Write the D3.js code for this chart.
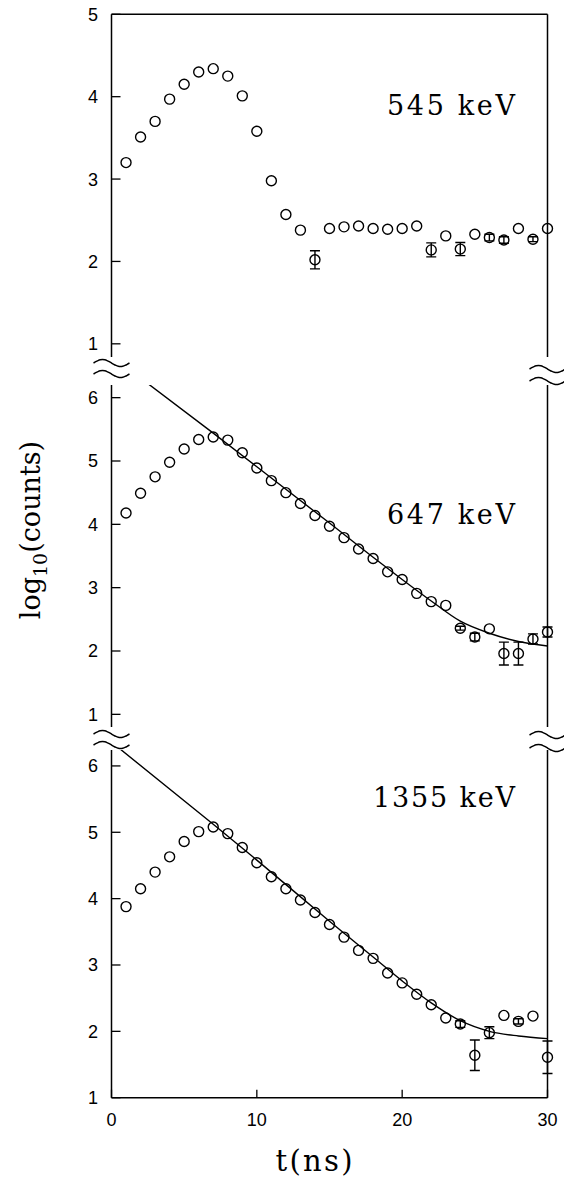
<!DOCTYPE html>
<html>
<head>
<meta charset="utf-8">
<script src="https://cdn.jsdelivr.net/npm/d3@7"></script>
<style>
    body{margin:0;background:#fff;}
    .tick-label{font-family:'Liberation Sans',Arial,sans-serif;font-size:18px;fill:#000;}
    .serif{font-family:'DejaVu Serif','Liberation Serif',serif;fill:#000;}
</style>
</head>
<body>
<div class="canvas"></div>
<script>
/* decay curves of three gamma lines, log10(counts) vs time */

var times = [1,2,3,4,5,6,7,8,9,10,11,12,13,14,15,16,17,18,19,20,21,22,23,24,25,26,27,28,29,30];

var counts545 = [3.20,3.51,3.70,3.97,4.15,4.30,4.34,4.25,4.01,3.58,2.98,2.57,2.38,2.02,2.40,
                 2.42,2.43,2.40,2.39,2.40,2.43,2.14,2.31,2.15,2.33,2.29,2.26,2.40,2.27,2.40];
var err545 = [0,0,0,0,0,0,0,0,0,0,0,0,0,0.11,0,
              0,0,0,0,0,0,0.085,0,0.08,0,0.04,0.04,0,0.03,0];

var counts647 = [4.18,4.49,4.75,4.98,5.19,5.34,5.38,5.33,5.13,4.89,4.69,4.50,4.33,4.14,3.97,
                 3.79,3.61,3.46,3.25,3.13,2.91,2.78,2.72,2.36,2.22,2.35,1.96,1.96,2.19,2.30];
var err647 = [0,0,0,0,0,0,0,0,0,0,0,0,0,0,0,
              0,0,0,0,0,0,0,0,0.03,0.06,0,0.18,0.18,0.08,0.08];

var counts1355 = [3.88,4.15,4.40,4.63,4.86,5.01,5.08,4.98,4.77,4.54,4.33,4.15,3.98,3.79,3.61,
                  3.42,3.22,3.10,2.88,2.73,2.56,2.40,2.20,2.11,1.64,1.98,2.24,2.15,2.23,1.61];
var err1355 = [0,0,0,0,0,0,0,0,0,0,0,0,0,0,0,
               0,0,0,0,0,0,0,0,0.05,0.23,0.09,0,0.04,0,0.245];

// fitted curves
var fit647T = [2,7,10,15,18,20,22,24,26,28,30];
var fit647V = [6.31,5.44,4.91,4.02,3.48,3.13,2.79,2.47,2.28,2.15,2.08];
var fit1355T = [0,7,10,15,18,20,22,24,26,28,30];
var fit1355V = [6.36,5.12,4.58,3.66,3.12,2.76,2.43,2.16,2.00,1.93,1.89];

var panelLabels = ['545 keV','647 keV','1355 keV'];
var yTicksTop = [1,2,3,4,5];
var yTicksLow = [1,2,3,4,5,6];
var xTicks = [0,10,20,30];

var canvasWidth = 564, canvasHeight = 1178;

var x = d3.scaleLinear().domain([0,30]).range([111.5,547.5]);

var panels = [
    {label:panelLabels[0], counts:counts545, err:err545, fitT:null, fitV:null,
     y:d3.scaleLinear().domain([0.84,5]).range([357,14.3]), ticks:yTicksTop,
     labelY:115, top:true, bottom:false},
    {label:panelLabels[1], counts:counts647, err:err647, fitT:fit647T, fitV:fit647V,
     y:d3.scaleLinear().domain([0.8,6.2]).range([727,385]), ticks:yTicksLow,
     labelY:524, top:false, bottom:false},
    {label:panelLabels[2], counts:counts1355, err:err1355, fitT:fit1355T, fitV:fit1355V,
     y:d3.scaleLinear().domain([1,6.24]).range([1097.7,750]), ticks:yTicksLow,
     labelY:807, top:false, bottom:true}
];

var svg = d3.select('.canvas')
    .append('svg')
    .attr('width',canvasWidth)
    .attr('height',canvasHeight);

var defs = svg.append('defs');

panels.forEach(drawPanel);

// axis breaks between the panels
var breaks = [
    {side:x(0), ys:[363,374]},
    {side:x(30), ys:[369,381]},
    {side:x(0), ys:[734,745]},
    {side:x(30), ys:[735,748]}
];
var wave = d3.line().curve(d3.curveBasis);
breaks.forEach(function(b){
    b.ys.forEach(function(cy){
        var pts = [];
        for(var i=0;i<=16;i++){
            pts.push([b.side-18+i*36/16, cy-3.5*Math.sin(2*Math.PI*i/16)]);
        }
        svg.append('path')
            .attr('d',wave(pts))
            .style('fill','none')
            .style('stroke','#000')
            .style('stroke-width','1.5px');
    });
});

// x axis labels
svg.selectAll('.xlab')
    .data(xTicks)
    .enter()
    .append('text')
    .attr('class','tick-label')
    .attr('x',function(d){return x(d);})
    .attr('y',1126)
    .attr('text-anchor','middle')
    .text(function(d){return d;});

svg.append('text')
    .attr('class','serif')
    .attr('x',314)
    .attr('y',1171)
    .attr('text-anchor','middle')
    .attr('textLength',77)
    .style('font-size','29px')
    .text('t(ns)');

// y title
var yTitle = svg.append('text')
    .attr('class','serif')
    .attr('transform','translate(40,530) rotate(-90)')
    .attr('text-anchor','middle')
    .style('font-size','27px');
yTitle.append('tspan').text('log');
yTitle.append('tspan').attr('dy',7).style('font-size','19px').text('10');
yTitle.append('tspan').attr('dy',-7).text('(counts)');

function drawPanel(p,i){
    var y = p.y;
    var yTop = y.range()[1], yBot = y.range()[0];
    var g = svg.append('g').attr('class','panel-'+i);

    defs.append('clipPath')
        .attr('id','clip-'+i)
        .append('rect')
        .attr('x',x(0))
        .attr('y',yTop)
        .attr('width',x(30)-x(0))
        .attr('height',yBot-yTop);

    // frame
    [x(0),x(30)].forEach(function(xx){
        g.append('line')
            .attr('x1',xx).attr('x2',xx)
            .attr('y1',yTop).attr('y2',yBot)
            .style('stroke','#000').style('stroke-width','1.5px');
    });
    if(p.top){
        g.append('line')
            .attr('x1',x(0)).attr('x2',x(30))
            .attr('y1',yTop).attr('y2',yTop)
            .style('stroke','#000').style('stroke-width','1.5px');
    }
    if(p.bottom){
        g.append('line')
            .attr('x1',x(0)).attr('x2',x(30))
            .attr('y1',yBot).attr('y2',yBot)
            .style('stroke','#000').style('stroke-width','1.5px');
        g.selectAll('.xtick')
            .data(xTicks)
            .enter()
            .append('line')
            .attr('x1',function(d){return x(d);})
            .attr('x2',function(d){return x(d);})
            .attr('y1',yBot)
            .attr('y2',yBot-8)
            .style('stroke','#000').style('stroke-width','1.3px');
    }

    // y ticks
    g.selectAll('.ytick')
        .data(p.ticks)
        .enter()
        .append('line')
        .attr('x1',x(0))
        .attr('x2',x(0)+9)
        .attr('y1',function(d){return y(d);})
        .attr('y2',function(d){return y(d);})
        .style('stroke','#000').style('stroke-width','1.3px');
    g.selectAll('.ylab')
        .data(p.ticks)
        .enter()
        .append('text')
        .attr('class','tick-label')
        .attr('x',98)
        .attr('y',function(d){return y(d);})
        .attr('dy','0.36em')
        .attr('text-anchor','end')
        .text(function(d){return d;});

    // fitted curve
    if(p.fitT){
        var fit = p.fitT.map(function(t,k){return [t,p.fitV[k]];});
        g.append('path')
            .attr('clip-path','url(#clip-'+i+')')
            .attr('d',d3.line()
                .x(function(d){return x(d[0]);})
                .y(function(d){return y(d[1]);})
                .curve(d3.curveMonotoneX)(fit))
            .style('fill','none')
            .style('stroke','#000')
            .style('stroke-width','1.4px');
    }

    // error bars
    var pts = times.map(function(t,k){return {t:t,v:p.counts[k],e:p.err[k]};});
    var withErr = pts.filter(function(d){return d.e>0;});
    g.selectAll('.ebar')
        .data(withErr)
        .enter()
        .append('path')
        .attr('d',function(d){
            var cx = x(d.t), y1 = y(d.v+d.e), y2 = y(d.v-d.e);
            return 'M'+(cx-5)+','+y1+'H'+(cx+5)+'M'+cx+','+y1+'V'+y2+'M'+(cx-5)+','+y2+'H'+(cx+5);
        })
        .style('fill','none')
        .style('stroke','#000')
        .style('stroke-width','1.4px');

    g.selectAll('.pt')
        .data(pts)
        .enter()
        .append('circle')
        .attr('cx',function(d){return x(d.t);})
        .attr('cy',function(d){return y(d.v);})
        .attr('r',5)
        .style('fill','none')
        .style('stroke','#000')
        .style('stroke-width','1.4px');

    svg.append('text')
        .attr('class','serif')
        .attr('x',515)
        .attr('y',p.labelY)
        .attr('text-anchor','end')
        .attr('textLength',i==2?142:128)
        .style('font-size','27px')
        .text(p.label);
}
</script>
</body>
</html>
